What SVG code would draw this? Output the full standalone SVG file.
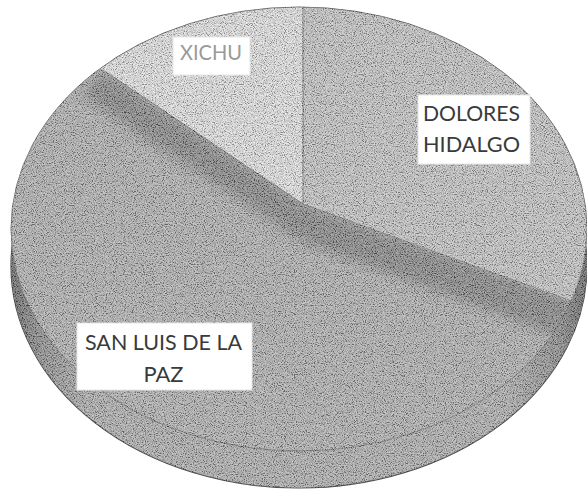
<svg xmlns="http://www.w3.org/2000/svg" width="587" height="490" viewBox="0 0 587 490">
  <style>
    .lbl { font-family: "Lato", "Liberation Sans", sans-serif; font-size: 21px; fill: #3a3a3a; }
    .box { fill: #ffffff; stroke: #e6e6e6; stroke-width: 1; }
    .edge { fill: none; stroke: #555555; stroke-width: 0.9; }
  </style>
  <defs>
    <linearGradient id="sideGrad" x1="0" y1="0" x2="1" y2="0">
      <stop offset="0" stop-color="#4e4e4e"/>
      <stop offset="0.05" stop-color="#7c7c7c"/>
      <stop offset="0.14" stop-color="#a3a3a3"/>
      <stop offset="0.86" stop-color="#a3a3a3"/>
      <stop offset="0.95" stop-color="#7c7c7c"/>
      <stop offset="1" stop-color="#4e4e4e"/>
    </linearGradient>
    <clipPath id="topClip">
      <ellipse cx="299" cy="229" rx="288" ry="222"/>
    </clipPath>
    <clipPath id="pieClip">
      <ellipse cx="299" cy="229" rx="288" ry="222"/>
      <ellipse cx="299" cy="266" rx="288" ry="222"/>
    </clipPath>
    <filter id="soft" x="-20%" y="-20%" width="140%" height="140%">
      <feGaussianBlur stdDeviation="6"/>
    </filter>
    <filter id="grain" x="0" y="0" width="100%" height="100%">
      <feTurbulence type="fractalNoise" baseFrequency="0.9" numOctaves="2" seed="7" result="n"/>
      <feColorMatrix type="matrix" values="2.6 0 0 0 -0.8  2.6 0 0 0 -0.8  2.6 0 0 0 -0.8  0 0 0 0 0.38"/>
    </filter>
  </defs>

  <rect width="587" height="490" fill="#ffffff"/>

  <!-- 3D side of the pie -->
  <g id="pie-side">
    <ellipse cx="299" cy="266" rx="288" ry="222" fill="url(#sideGrad)" stroke="#4a4a4a" stroke-width="1.2"/>
  </g>

  <!-- top face -->
  <g id="slice-san-luis" clip-path="url(#topClip)">
    <ellipse cx="299" cy="229" rx="288" ry="222" fill="#a6a6a6"/>
    <polygon points="103,70 303,204 574,300 568,340 303,242 82,96" fill="#6e6e6e" opacity="0.85" filter="url(#soft)"/>
  </g>
  <g id="slice-dolores" clip-path="url(#topClip)">
    <polygon points="303,204 303,-40 640,-40 640,327" fill="#bdbdbd"/>
  </g>
  <g id="slice-xichu" clip-path="url(#topClip)">
    <polygon points="303,204 303,-40 -50,-40 -50,-32" fill="#e0e0e0"/>
  </g>

  <g id="slice-lines">
    <line x1="303" y1="204" x2="303" y2="7" stroke="#5a5a5a" stroke-width="1"/>
    <line x1="303" y1="204" x2="103" y2="70" stroke="#5a5a5a" stroke-width="1"/>
    <line x1="303" y1="204" x2="574" y2="302" stroke="#6a6a6a" stroke-width="1"/>
    <ellipse class="edge" cx="299" cy="229" rx="288" ry="222"/>
  </g>

  <!-- scan grain -->
  <g clip-path="url(#pieClip)">
    <rect x="0" y="0" width="587" height="490" filter="url(#grain)"/>
  </g>

  <!-- labels -->
  <g id="label-xichu">
    <rect class="box" x="173" y="37" width="77" height="38"/>
    <text class="lbl" x="211" y="60" text-anchor="middle" textLength="62" lengthAdjust="spacingAndGlyphs" style="fill:#9a9a9a">XICHU</text>
  </g>
  <g id="label-dolores">
    <rect class="box" x="418" y="95" width="112" height="69"/>
    <text class="lbl" x="471.5" y="121" text-anchor="middle" textLength="97" lengthAdjust="spacingAndGlyphs">DOLORES</text>
    <text class="lbl" x="471.5" y="152" text-anchor="middle" textLength="97" lengthAdjust="spacingAndGlyphs">HIDALGO</text>
  </g>
  <g id="label-san-luis">
    <rect class="box" x="77" y="323" width="175" height="67"/>
    <text class="lbl" x="163.5" y="350" text-anchor="middle" textLength="157" lengthAdjust="spacingAndGlyphs">SAN LUIS DE LA</text>
    <text class="lbl" x="163.5" y="382" text-anchor="middle" textLength="40" lengthAdjust="spacingAndGlyphs">PAZ</text>
  </g>
</svg>
